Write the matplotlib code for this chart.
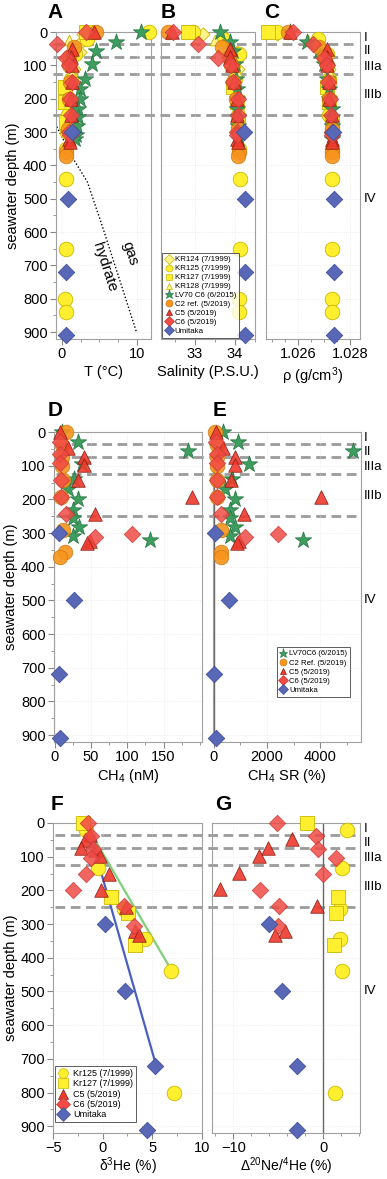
import numpy as np
import matplotlib
matplotlib.use('Agg')
import matplotlib.pyplot as plt
import matplotlib.transforms as mtransforms
from matplotlib.ticker import MultipleLocator, FormatStrFormatter
from matplotlib.lines import Line2D

plt.rcParams['font.family'] = ['Liberation Sans', 'DejaVu Sans']
plt.rcParams['mathtext.fontset'] = 'custom'
plt.rcParams['mathtext.rm'] = 'Liberation Sans'
plt.rcParams['mathtext.it'] = 'Liberation Sans:italic'

# ---- CTD profiles (panels A-C): depth (m), T (degC), salinity, density
kr124_depth = [5, 30, 60, 110]
kr124_temp = [2.8, 2.6, 2.4, 1.6]
kr124_sal = [33.2, 33.8, 34.05, 34.08]
kr124_rho = [1.0252, 1.0267, 1.0271, 1.0272]

kr125_depth = [0, 20, 65, 140, 250, 300, 350, 440, 650, 800, 840]
kr125_temp = [11.6, 3.4, 1.8, 1.2, 0.8, 0.7, 0.6, 0.6, 0.5, 0.4, 0.5]
kr125_sal = [32.95, 33.7, 34.1, 34.0, 34.08, 34.1, 34.1, 34.12, 34.12, 34.1, 34.1]
kr125_rho = [1.02518, 1.02678, 1.0271, 1.0272, 1.0272, 1.0273, 1.0273, 1.0273, 1.0273, 1.0273, 1.0273]

kr127_depth = [0, 165, 210, 270]
kr127_temp = [3.2, 0.4, 0.4, 0.5]
kr127_sal = [32.83, 33.95, 34.05, 34.08]
kr127_rho = [1.02486, 1.0271, 1.0272, 1.0273]

kr128_depth = [25, 50, 90, 120]
kr128_temp = [1.0, 1.3, 1.1, 1.2]
kr128_sal = [33.5, 33.9, 34.0, 34.05]
kr128_rho = [1.0264, 1.0270, 1.0271, 1.0272]

lv70_depth = [0, 29, 56, 95, 140, 170, 200, 232, 256, 283, 308, 321]
lv70_temp = [10.6, 7.2, 4.5, 4.0, 3.1, 2.4, 2.4, 2.2, 2.2, 2.0, 1.9, 1.8]
lv70_sal = [33.62, 33.87, 33.95, 34.0, 34.02, 34.04, 34.05, 34.06, 34.07, 34.08, 34.08, 34.09]
lv70_rho = [1.0257, 1.02633, 1.0268, 1.0270, 1.0271, 1.0272, 1.0272, 1.0273, 1.0273, 1.0273, 1.0273, 1.0273]

c2_depth = [0, 45, 75, 100, 150, 200, 290, 360, 372]
c2_temp = [4.6, 1.6, 1.0, 1.0, 1.1, 0.9, 0.8, 0.6, 0.6]
c2_sal = [32.33, 33.67, 33.85, 33.9, 33.95, 34.02, 34.08, 34.1, 34.08]
c2_rho = [1.02563, 1.0268, 1.0270, 1.0271, 1.0272, 1.0272, 1.0273, 1.0273, 1.0273]

c5_depth = [0, 50, 75, 100, 150, 200, 250, 320, 330]
c5_temp = [4.3, 1.3, 1.2, 1.3, 1.4, 1.2, 1.2, 1.0, 1.1]
c5_sal = [32.42, 33.88, 33.88, 33.93, 33.98, 34.05, 34.06, 34.05, 34.07]
c5_rho = [1.0257, 1.0271, 1.0271, 1.0271, 1.0272, 1.0272, 1.0273, 1.0273, 1.0273]

c6_depth = [0, 36, 78, 100, 150, 200, 250, 300, 310]
c6_temp = [3.2, -0.6, 0.6, 1.0, 1.3, 1.1, 1.2, 1.0, 1.1]
c6_sal = [32.45, 33.08, 33.58, 33.9, 33.95, 34.08, 34.08, 34.05, 34.06]
c6_rho = [1.0258, 1.02659, 1.0270, 1.0271, 1.02717, 1.02723, 1.02726, 1.0273, 1.0273]

umi_depth = [300, 500, 720, 910]
umi_temp = [1.4, 0.75, 0.5, 0.5]
umi_sal = [34.22, 34.25, 34.25, 34.25]
umi_rho = [1.02736, 1.02738, 1.02738, 1.02738]

# gas hydrate stability boundary
hyd_temp = [-0.7, 1.5, 3.4, 5.5, 10.0]
hyd_depth = [284, 380, 450, 590, 903]

# ---- methane (panels D-E)
lv70_ch4 = [10, 32, 184, 38, 27, 18, 32, 25, 25, 34, 25, 131]
lv70_sr = [359, 914, 5210, 1309, 691, 444, 790, 630, 605, 790, 605, 3358]
c2_ch4_depth = [0, 40, 75, 100, 143, 193, 292, 357, 372]
c2_ch4 = [16, 10, 10, 10, 11, 9, 11, 14, 7]
c2_sr = [50, 130, 130, 130, 140, 120, 296, 296, 270]
c5_ch4_depth = [0, 48, 75, 97, 142, 193, 243, 324, 329]
c5_ch4 = [7, 18, 41, 41, 32, 189, 55, 48, 44]
c5_sr = [111, 360, 790, 790, 650, 4025, 1136, 938, 880]
c6_ch4_depth = [30, 64, 93, 143, 193, 243, 302, 312]
c6_ch4 = [7, 7, 7, 8, 8, 16, 107, 56]
c6_sr = [74, 120, 120, 130, 130, 296, 2420, 1160]
umi_ch4 = [5.5, 26, 5.5, 7]
umi_sr = [49, 580, 10, 85]

# ---- helium / neon (panels F-G)
kr125_he_depth = [20, 135, 255, 345, 440, 800]
kr125_d3he = [-1.7, -0.5, 2.1, 4.3, 6.9, 7.2]
kr125_dne = [2.6, 2.1, 1.9, 1.85, 2.1, 1.3]
kr127_he_depth = [0, 220, 267, 362]
kr127_d3he = [-2.0, 0.8, 2.6, 3.3]
kr127_dne = [-1.78, 1.6, 1.41, 1.19]
c5_he_depth = [35, 50, 75, 80, 98, 150, 198, 248, 320, 332]
c5_d3he = [-1.33, -1.83, -2.16, -0.83, -0.33, 0.6, -0.16, 2.3, 3.3, 3.67]
c5_ne_depth = [48, 75, 98, 149, 196, 247, 321, 333]
c5_dne = [-3.5, -6.2, -7.1, -9.4, -11.5, -0.67, -4.26, -5.37]
c6_he_depth = [0, 40, 78, 103, 150, 200, 247, 305]
c6_d3he = [-1.5, -1.2, -1.0, -1.16, -1.66, -3.0, 2.17, 3.17]
c6_dne = [-5.1, -0.8, -0.6, 1.37, 0.0, -7.0, -4.9, -5.0]
umi_d3he = [0.27, 2.23, 5.33, 4.43]
umi_dne = [-6.0, -4.55, -2.9, -2.9]

green_d3he = [-1.0, 7.0]
green_depth = [40, 440]
blue_d3he = [-1.3, 5.4]
blue_depth = [30, 720]

layer_depths = [35, 75, 125, 250]
zone_names = ['I', 'II', 'IIIa', 'IIIb', 'IV']
zone_depths = [18, 58, 105, 190, 500]

# marker styles
YEL, YEL_E = '#FFEF2E', '#C9B600'
PALE = '#FFF48C'
ST = {
    'kr124': dict(marker='D', s=45, c=PALE, edgecolors=YEL_E),
    'kr125': dict(marker='o', s=110, c=YEL, edgecolors=YEL_E),
    'kr127': dict(marker='s', s=95, c=YEL, edgecolors=YEL_E),
    'kr128': dict(marker='^', s=60, c=PALE, edgecolors=YEL_E),
    'lv70': dict(marker='*', s=150, c='#3E9E5F', edgecolors='#2B7A47'),
    'c2': dict(marker='o', s=110, c='#F7941D', edgecolors='#CF7A12', alpha=0.9),
    'c5': dict(marker='^', s=95, c='#EE3A2D', edgecolors='#8C1C12', alpha=0.9),
    'c6': dict(marker='D', s=70, c='#F04B45', edgecolors='#C83A36', alpha=0.85),
    'umi': dict(marker='D', s=70, c='#5868B6', edgecolors='#3F4E9C'),
}


def pts(ax, x, y, key):
    ax.scatter(x, y, linewidths=0.6, clip_on=False, zorder=3, **ST[key])


def setup(ax, xlim, xticks, minor, show_y):
    ax.set_facecolor('none')
    ax.set_ylim(920, 0)
    ax.set_xlim(*xlim)
    ax.set_xticks(xticks)
    ax.xaxis.set_minor_locator(MultipleLocator(minor))
    ax.yaxis.set_major_locator(MultipleLocator(100))
    ax.yaxis.set_minor_locator(MultipleLocator(50))
    for s in ax.spines.values():
        s.set_color('#a0a0a0')
        s.set_linewidth(0.8)
    ax.tick_params(which='both', direction='out', color='#888888', labelsize=10.5, pad=2)
    ax.tick_params(which='major', length=4)
    ax.tick_params(which='minor', length=2.5)
    ax.grid(True, which='major', ls=':', color='#e8e8e8', lw=0.6)
    if not show_y:
        ax.tick_params(axis='y', which='both', left=False, labelleft=False)
    else:
        ax.set_ylabel('seawater depth (m)', fontsize=10.5, labelpad=2)


def layers(fig, ax, x0, x1, labels):
    tr = mtransforms.blended_transform_factory(fig.transFigure, ax.transData)
    for d in layer_depths:
        ax.plot([x0 / 387, x1 / 387], [d, d], transform=tr, color='#9b9b9b', lw=2,
                dashes=(3.5, 2), clip_on=False, zorder=1.5)
    if labels:
        for n, d in zip(zone_names, zone_depths):
            ax.text(364 / 387, d, n, transform=tr, fontsize=9.5, va='center', ha='left')


W, H = 387, 1179
fig = plt.figure(figsize=(W / 100, H / 100), dpi=100)


def add_ax(x0, x1, y0, y1):
    return fig.add_axes([x0 / W, 1 - y1 / H, (x1 - x0) / W, (y1 - y0) / H])


axA = add_ax(56, 151, 32, 338.7)
axB = add_ax(161, 255, 32, 338.7)
axC = add_ax(266, 360, 32, 338.7)
axD = add_ax(54, 202, 432, 741.8)
axE = add_ax(213, 361, 432, 741.8)
axF = add_ax(53.3, 201.7, 823, 1133)
axG = add_ax(212.3, 360, 823, 1133)

setup(axA, (-0.8, 11.9), [0, 10], 2.5, True)
setup(axB, (32.15, 34.5), [33, 34], 0.5, False)
setup(axC, (1.02477, 1.02838), [1.026, 1.028], 0.0005, False)
axC.xaxis.set_major_formatter(FormatStrFormatter('%.3f'))
setup(axD, (-1, 203), [0, 50, 100, 150], 25, True)
setup(axE, (-20, 5520), [0, 2000, 4000], 1000, False)
setup(axF, (-5, 10), [-5, 0, 5, 10], 2.5, True)
setup(axG, (-12.33, 4.07), [-10, 0], 2, False)

layers(fig, axA, 53, 357, True)
layers(fig, axD, 56, 358, True)
layers(fig, axF, 55, 356, True)

# panel A-C
for ax, col in [(axA, 'temp'), (axB, 'sal'), (axC, 'rho')]:
    pts(ax, globals()['kr124_' + col], kr124_depth, 'kr124')
    pts(ax, globals()['kr125_' + col], kr125_depth, 'kr125')
    pts(ax, globals()['kr127_' + col], kr127_depth, 'kr127')
    pts(ax, globals()['kr128_' + col], kr128_depth, 'kr128')
    pts(ax, globals()['lv70_' + col], lv70_depth, 'lv70')
    pts(ax, globals()['c2_' + col], c2_depth, 'c2')
    pts(ax, globals()['c5_' + col], c5_depth, 'c5')
    pts(ax, globals()['c6_' + col], c6_depth, 'c6')
    pts(ax, globals()['umi_' + col], umi_depth, 'umi')

axA.plot(hyd_temp, hyd_depth, color='black', lw=1, ls=(0, (1, 1.5)), zorder=2)
axA.text(9.1, 665, 'gas', rotation=-72, fontsize=11, ha='center', va='center')
axA.text(5.7, 705, 'hydrate', rotation=-72, fontsize=11, ha='center', va='center')

axA.set_xlabel('T (°C)', fontsize=10.5, labelpad=3)
axB.set_xlabel('Salinity (P.S.U.)', fontsize=10.5, labelpad=3)
axC.set_xlabel('ρ (g/cm$^3$)', fontsize=10.5, labelpad=3)

leg_keys = ['kr124', 'kr125', 'kr127', 'kr128', 'lv70', 'c2', 'c5', 'c6', 'umi']
leg_labels = ['KR124 (7/1999)', 'KR125 (7/1999)', 'KR127 (7/1999)', 'KR128 (7/1999)',
              'LV70 C6 (6/2015)', 'C2 ref. (5/2019)', 'C5 (5/2019)', 'C6 (5/2019)', 'Umitaka']


def handle(key, ms):
    st = ST[key]
    return Line2D([], [], ls='none', marker=st['marker'], markerfacecolor=st['c'],
                  markeredgecolor=st['edgecolors'], markeredgewidth=0.5,
                  markersize=ms * (1.3 if st['marker'] == '*' else 1))


lg = axB.legend([handle(k, 5) for k in leg_keys], leg_labels, loc='lower left',
                bbox_to_anchor=(0.0, 0.0), fontsize=5.7, frameon=True, fancybox=False,
                borderpad=0.3, labelspacing=0.18, handletextpad=0.3, handlelength=1.0,
                borderaxespad=0.15)
lg.get_frame().set_edgecolor('#333333')
lg.get_frame().set_linewidth(0.7)

# panel D-E
for ax, sfx in [(axD, 'ch4'), (axE, 'sr')]:
    pts(ax, globals()['lv70_' + sfx], lv70_depth, 'lv70')
    pts(ax, globals()['c2_' + sfx], c2_ch4_depth, 'c2')
    pts(ax, globals()['c5_' + sfx], c5_ch4_depth, 'c5')
    pts(ax, globals()['c6_' + sfx], c6_ch4_depth, 'c6')
    pts(ax, globals()['umi_' + sfx], umi_depth, 'umi')
axE.axvline(0, color='#666666', lw=1, zorder=2)
axD.set_xlabel('CH$_4$ (nM)', fontsize=10.5, labelpad=2)
axE.set_xlabel('CH$_4$ SR (%)', fontsize=10.5, labelpad=2)

keysE = ['lv70', 'c2', 'c5', 'c6', 'umi']
labE = ['LV70C6 (6/2015)', 'C2 Ref. (5/2019)', 'C5 (5/2019)', 'C6 (5/2019)', 'Umitaka']
lg = axE.legend([handle(k, 5) for k in keysE], labE, loc='upper left',
                bbox_to_anchor=(0.43, 0.305), fontsize=5.6, frameon=True, fancybox=False,
                borderpad=0.35, labelspacing=0.22, handletextpad=0.3, handlelength=1.0,
                borderaxespad=0)
lg.get_frame().set_edgecolor('#333333')
lg.get_frame().set_linewidth(0.7)

# panel F-G
axF.plot(green_d3he, green_depth, color='#7FD07A', lw=1.6, zorder=2.5)
axF.plot(blue_d3he, blue_depth, color='#4A5FC1', lw=1.6, zorder=2.5)
pts(axF, kr125_d3he, kr125_he_depth, 'kr125')
pts(axF, kr127_d3he, kr127_he_depth, 'kr127')
pts(axF, c5_d3he, c5_he_depth, 'c5')
pts(axF, c6_d3he, c6_he_depth, 'c6')
pts(axF, umi_d3he, umi_depth, 'umi')

axG.axvline(0, color='#666666', lw=1, zorder=2)
pts(axG, kr125_dne, kr125_he_depth, 'kr125')
pts(axG, kr127_dne, kr127_he_depth, 'kr127')
pts(axG, c5_dne, c5_ne_depth, 'c5')
pts(axG, c6_dne, c6_he_depth, 'c6')
pts(axG, umi_dne, umi_depth, 'umi')

axF.set_xlabel('δ$^3$He (%)', fontsize=10, labelpad=0)
axG.set_xlabel('Δ$^{20}$Ne/$^4$He (%)', fontsize=10, labelpad=0)

keysF = ['kr125', 'kr127', 'c5', 'c6', 'umi']
labF = ['Kr125 (7/1999)', 'Kr127 (7/1999)', 'C5 (5/2019)', 'C6 (5/2019)', 'Umitaka']
lg = axF.legend([handle(k, 7) for k in keysF], labF, loc='lower left',
                bbox_to_anchor=(0.01, 0.035), fontsize=6.5, frameon=True, fancybox=False,
                borderpad=0.3, labelspacing=0.15, handletextpad=0.4, handlelength=1.3,
                borderaxespad=0)
lg.get_frame().set_edgecolor('#333333')
lg.get_frame().set_linewidth(0.7)

# panel letters
for ax, letter, x, y in [(axA, 'A', 55, 13), (axB, 'B', 168, 13), (axC, 'C', 272, 13),
                         (axD, 'D', 55, 410), (axE, 'E', 220, 410),
                         (axF, 'F', 57, 805), (axG, 'G', 223, 805)]:
    fig.text(x / W, 1 - y / H, letter, fontsize=15, fontweight='bold', ha='center', va='center')

fig.savefig('out.png', dpi=100)
